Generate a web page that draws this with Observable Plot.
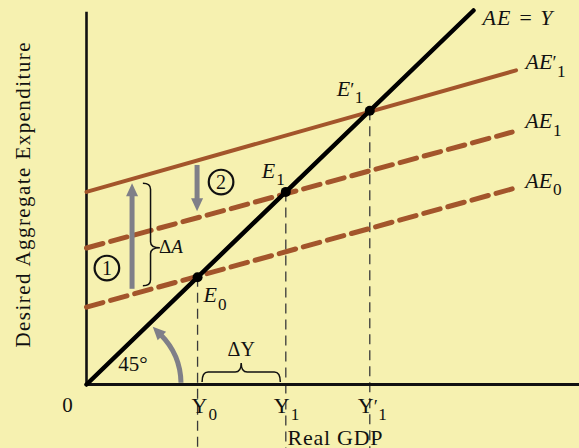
<!DOCTYPE html>
<html><head><meta charset="utf-8">
<script src="https://cdn.jsdelivr.net/npm/d3@7"></script>
<script src="https://cdn.jsdelivr.net/npm/@observablehq/plot@0.6"></script>
<style>
html,body{margin:0;padding:0;background:#f6f1b0;}
#chart svg{display:block;}
</style></head>
<body><div id="chart"></div>
<script>
// ---------- data ----------
const ae45 = [{x: 0, y: 0}, {x: 100, y: 100}];          // AE = Y
const ae0  = [{x: 0, y: 20.7}, {x: 110, y: 52.3}];      // AE0 (dashed)
const ae1  = [{x: 0, y: 36.5}, {x: 110, y: 67.5}];      // AE1 (dashed)
const ae1p = [{x: 0, y: 51.5}, {x: 111, y: 84}];        // AE1' (solid)
const equilibriumX = [28.7, 51.5, 73.2];                // Y0, Y1, Y1'
const eqLabels  = ["E_0", "E_1", "E^′_1"];
const gdpLabels = ["Y_0", "Y_1", "Y^′_1"];
const lineLabels = ["AE_0", "AE_1", "AE^′_1"];
const diagLabel = "AE = Y";
const yTitle = "Desired Aggregate Expenditure";
const xTitle = "Real GDP";

// ---------- styling ----------
const brown = "#a3552b", grey = "#7f7f88", ink = "#111";
const serif = "'Liberation Serif', 'Times New Roman', serif";

const lineAt = (pts, xv) => pts[0].y + (xv - pts[0].x) * (pts[1].y - pts[0].y) / (pts[1].x - pts[0].x);
const eq = equilibriumX.map((x, i) => ({x, y: x, e: eqLabels[i], g: gdpLabels[i]}));
const ends = [ae0, ae1, ae1p].map((p, i) => ({x: p[1].x, y: p[1].y, t: lineLabels[i]}));

function lab(d, o) {
  return Plot.text([d], {x: "x", y: "y", text: "t", fontSize: 22, fontFamily: serif, fill: ink, textAnchor: "start", ...o});
}

function annotations(index, scales) {
  const X = scales.x, Y = scales.y;
  const g = d3.create("svg:g");
  const arrowV = (px, yFrom, yTo) => {
    const dir = Math.sign(yTo - yFrom), hl = 13, hw = 6;
    g.append("line").attr("x1", px).attr("x2", px).attr("y1", yFrom).attr("y2", yTo - dir * hl * 0.8)
      .attr("stroke", grey).attr("stroke-width", 5);
    g.append("path").attr("d", `M${px},${yTo}L${px - hw},${yTo - dir * hl}L${px + hw},${yTo - dir * hl}Z`).attr("fill", grey);
  };
  // arrow 1 : AE0 -> AE1'
  const a1 = 11.9;
  arrowV(X(a1), Y(lineAt(ae0, a1)) - 5, Y(lineAt(ae1p, a1)) + 5);
  // arrow 2 : AE1' -> AE1
  const a2 = equilibriumX[0];
  arrowV(X(a2), Y(lineAt(ae1p, a2)) + 5, Y(lineAt(ae1, a2)) - 6);
  // circled numbers
  [[5.4, 31.0, "1"], [34.9, 54.0, "2"]].forEach(([cx, cy, t]) => {
    g.append("circle").attr("cx", X(cx)).attr("cy", Y(cy)).attr("r", 12.3)
      .attr("fill", "none").attr("stroke", ink).attr("stroke-width", 2.2);
    g.append("text").attr("x", X(cx)).attr("y", Y(cy)).attr("dy", "0.34em").attr("text-anchor", "middle")
      .attr("font-family", serif).attr("font-size", 20).attr("fill", ink).text(t);
  });
  // ΔA brace
  const bxD = 14.7, bx = X(bxD);
  const top = Y(lineAt(ae1p, bxD)) + 8, bot = Y(lineAt(ae0, bxD)) - 5;
  const ym = top + 0.63 * (bot - top), w = 17, xs = bx + w * 0.45, xt = bx + w, r = 6;
  g.append("path").attr("d",
    `M${bx},${top}Q${xs},${top} ${xs},${top + r}L${xs},${ym - r}Q${xs},${ym} ${xt},${ym}` +
    `Q${xs},${ym} ${xs},${ym + r}L${xs},${bot - r}Q${xs},${bot} ${bx},${bot}`)
    .attr("fill", "none").attr("stroke", ink).attr("stroke-width", 1.5);
  const tA = g.append("text").attr("x", xt + 11).attr("y", ym - 1).attr("dy", "0.34em")
    .attr("font-family", serif).attr("font-size", 19).attr("fill", ink);
  tA.append("tspan").text("Δ");
  tA.append("tspan").attr("font-style", "italic").text("A");
  // ΔY brace
  const x1 = X(equilibriumX[0]) + 5, x2 = X(equilibriumX[1]) - 5, xm = (x1 + x2) / 2;
  const yb = Y(0) - 2, ys = yb - 10, yt = yb - 19, rr = 6;
  g.append("path").attr("d",
    `M${x1},${yb}Q${x1},${ys} ${x1 + rr},${ys}L${xm - rr},${ys}Q${xm},${ys} ${xm},${yt}` +
    `Q${xm},${ys} ${xm + rr},${ys}L${x2 - rr},${ys}Q${x2},${ys} ${x2},${yb}`)
    .attr("fill", "none").attr("stroke", ink).attr("stroke-width", 1.5);
  g.append("text").attr("x", xm).attr("y", Y(0) - 35).attr("dy", "0.34em").attr("text-anchor", "middle")
    .attr("font-family", serif).attr("font-size", 20).attr("fill", ink).text("ΔY");
  // 45° arc arrow
  const cx = X(0) + 25, cy = Y(0), R = 70, t0 = 1 * Math.PI / 180, t1 = 45 * Math.PI / 180;
  const p0 = [cx + R * Math.cos(t0), cy - R * Math.sin(t0)], p1 = [cx + R * Math.cos(t1), cy - R * Math.sin(t1)];
  g.append("path").attr("d", `M${p0[0]},${p0[1]}A${R},${R} 0 0 0 ${p1[0]},${p1[1]}`)
    .attr("fill", "none").attr("stroke", grey).attr("stroke-width", 5);
  const tx = -Math.sin(t1), ty = -Math.cos(t1), nx = Math.cos(t1), ny = -Math.sin(t1);
  const tip = [p1[0] + tx * 11, p1[1] + ty * 11];
  const b = [p1[0] - tx * 2, p1[1] - ty * 2];
  g.append("path").attr("d", `M${tip[0]},${tip[1]}L${b[0] + nx * 6},${b[1] + ny * 6}L${b[0] - nx * 6},${b[1] - ny * 6}Z`).attr("fill", grey);
  g.append("text").attr("x", X(0) + 47).attr("y", Y(0) - 20.5).attr("dy", "0.34em")
    .attr("font-family", serif).attr("font-size", 21).attr("fill", ink).text("45°");
  return g.node();
}

const chart = Plot.plot({
  width: 579, height: 448,
  marginTop: 0, marginRight: 0, marginBottom: 0, marginLeft: 0,
  x: {domain: [0, 100], range: [86, 473], axis: null},
  y: {domain: [0, 100], range: [384, 10], axis: null},
  style: {background: "transparent", fontFamily: serif, overflow: "visible"},
  marks: [
    Plot.ruleX(eq, {x: "x", y1: "y", y2: -20, stroke: "#3a3a3a", strokeWidth: 1.3, strokeDasharray: "10,6"}),
    Plot.ruleY([0], {x1: 0, x2: 130, stroke: ink, strokeWidth: 3}),
    Plot.ruleX([0], {y1: 0, y2: 99.5, stroke: ink, strokeWidth: 2.6}),
    Plot.line(ae0, {x: "x", y: "y", stroke: brown, strokeWidth: 5, strokeDasharray: "17,8"}),
    Plot.line(ae1, {x: "x", y: "y", stroke: brown, strokeWidth: 5, strokeDasharray: "17,8"}),
    Plot.line(ae1p, {x: "x", y: "y", stroke: brown, strokeWidth: 4}),
    Plot.line(ae45, {x: "x", y: "y", stroke: "#000", strokeWidth: 4.5}),
    Plot.dot(eq, {x: "x", y: "y", r: 5, fill: "#000"}),
    annotations,
    // line labels
    lab({x: ae45[1].x, y: ae45[1].y, t: diagLabel}, {dx: 9, dy: 7.5, fontStyle: "italic"}),
    lab(ends[2], {dx: 9.5, dy: -8, fontStyle: "italic"}),
    lab(ends[1], {dx: 13, dy: -11, fontStyle: "italic"}),
    lab(ends[0], {dx: 13, dy: -8, fontStyle: "italic"}),
    // equilibrium labels
    lab({x: eq[0].x, y: eq[0].y, t: eq[0].e}, {dx: 6, dy: 18, fontStyle: "italic"}),
    lab({x: eq[1].x, y: eq[1].y, t: eq[1].e}, {dx: -24, dy: -21, fontStyle: "italic"}),
    lab({x: eq[2].x, y: eq[2].y, t: eq[2].e}, {dx: -33, dy: -22, fontStyle: "italic"}),
    // GDP tick labels
    lab({x: eq[0].x, y: 0, t: eq[0].g}, {dx: -6, dy: 21}),
    lab({x: eq[1].x, y: 0, t: eq[1].g}, {dx: -12, dy: 21}),
    lab({x: eq[2].x, y: 0, t: eq[2].g}, {dx: -12, dy: 21}),
    lab({x: 0, y: 0, t: "0"}, {dx: -19, dy: 21, textAnchor: "middle", fontSize: 21}),
    // axis titles
    Plot.text([yTitle], {frameAnchor: "left", dx: 23, dy: -29.5, rotate: -90, textAnchor: "middle", lineAnchor: "middle", fontSize: 21, fontFamily: serif, fill: ink}),
    Plot.text([xTitle], {frameAnchor: "bottom-left", dx: 287, dy: -11, textAnchor: "start", lineAnchor: "middle", fontSize: 22, fontFamily: serif, fill: ink})
  ]
});

// typeset sub/superscripts written as main^sup_sub
const NS = "http://www.w3.org/2000/svg";
chart.querySelectorAll("text").forEach(t => {
  if (t.querySelector("tspan")) return;
  const s = t.textContent;
  const m = s.match(/^([^\^_]+)(?:\^([^_]+))?(?:_(.+))?$/);
  if (!m || (!m[2] && !m[3])) return;
  t.textContent = "";
  const add = (txt, attrs) => {
    const ts = document.createElementNS(NS, "tspan");
    ts.textContent = txt;
    for (const k in attrs) ts.setAttribute(k, attrs[k]);
    t.appendChild(ts);
  };
  add(m[1], {});
  if (m[2]) add(m[2], {"font-size": "0.85em", "font-style": "normal"});
  if (m[3]) add(m[3], {"font-size": "0.78em", "font-style": "normal", dy: "7.5", dx: m[2] ? "0.5" : "1"});
});
chart.querySelectorAll("text").forEach(t => {
  const fit = {[yTitle]: 305, [xTitle]: 95, [diagLabel]: 70}[t.textContent];
  if (fit) { t.setAttribute("textLength", fit); t.setAttribute("lengthAdjust", "spacing"); }
});
document.getElementById("chart").appendChild(chart);
</script>
</body></html>
